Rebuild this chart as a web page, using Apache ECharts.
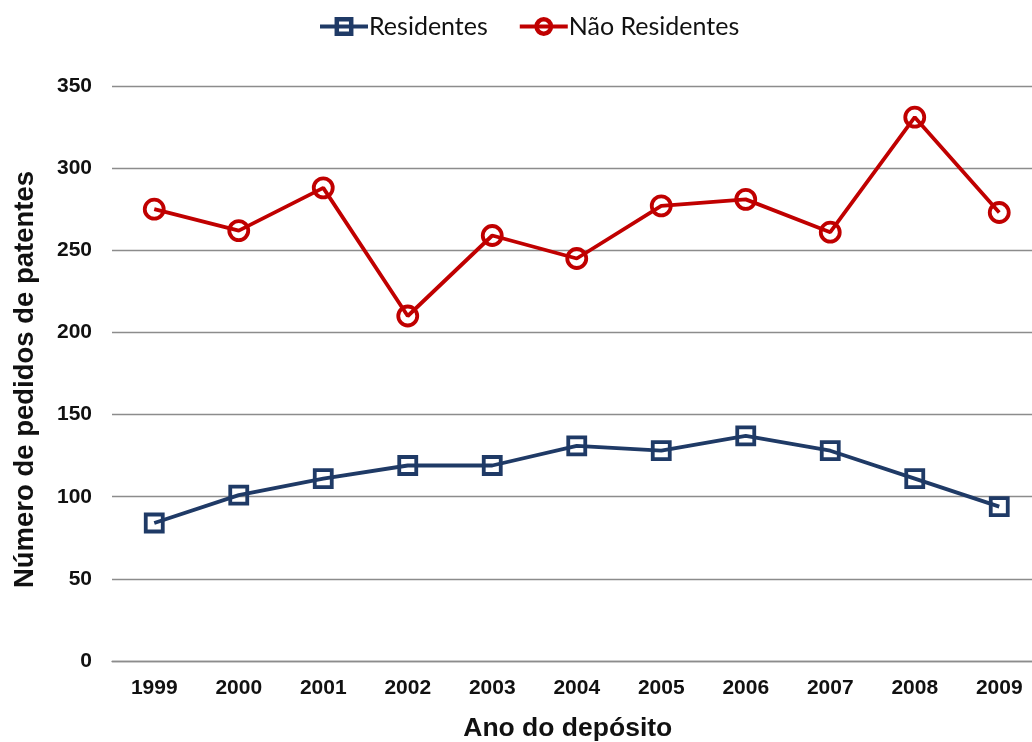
<!DOCTYPE html>
<html>
<head>
<meta charset="utf-8">
<script src="https://cdn.jsdelivr.net/npm/echarts@6/dist/echarts.min.js"></script>
<style>
  html, body { margin: 0; padding: 0; background: #ffffff; }
  #chart { width: 1032px; height: 742px; }
</style>
</head>
<body>
<div id="chart"></div>
<script>
// Pedidos de patentes por ano do depósito
const anos = ['1999', '2000', '2001', '2002', '2003', '2004', '2005', '2006', '2007', '2008', '2009'];
const residentes = [84, 101, 111, 119, 119, 131, 128, 137, 128, 111, 94];
const naoResidentes = [275, 262, 288, 210, 259, 245, 277, 281, 261, 331, 273];
const yTicks = [0, 50, 100, 150, 200, 250, 300, 350];

const azul = '#1F3A66';
const vermelho = '#C00000';

const chart = echarts.init(document.getElementById('chart'), null, { renderer: 'canvas' });

chart.setOption({
  backgroundColor: '#ffffff',
  animation: false,
  legend: {
    top: 9,
    left: 313,
    itemGap: 30,
    itemWidth: 48,
    itemHeight: 18,
    lineStyle: { width: 4 },
    itemStyle: { borderWidth: 4.5 },
    textStyle: { fontFamily: 'Lato', fontSize: 25, color: '#111111', padding: [0, 0, 0, -4] },
    data: ['Residentes', 'Não Residentes']
  },
  grid: { left: 112, top: 86, height: 575, width: 929.5, outerBoundsMode: 'none' },
  xAxis: {
    type: 'category',
    data: anos,
    boundaryGap: true,
    name: 'Ano do depósito',
    nameLocation: 'middle',
    nameGap: 54,
    nameTextStyle: { fontFamily: 'Liberation Sans', fontWeight: 'bold', fontSize: 26.5, color: '#111111', padding: [0, 18, 0, 0] },
    axisLine: { show: true, lineStyle: { color: '#8c8c8c', width: 1.3 } },
    axisTick: { show: false },
    axisLabel: { fontFamily: 'Liberation Sans', fontWeight: 'bold', fontSize: 21, color: '#111111', margin: 17 }
  },
  yAxis: {
    type: 'value',
    min: yTicks[0],
    max: yTicks[yTicks.length - 1],
    interval: 50,
    name: 'Número de pedidos de patentes',
    nameLocation: 'middle',
    nameGap: 73,
    nameTextStyle: { fontFamily: 'Liberation Sans', fontWeight: 'bold', fontSize: 27.5, color: '#111111', padding: [0, 12, 0, 0] },
    axisLine: { show: false },
    axisTick: { show: false },
    splitLine: { show: true, lineStyle: { color: '#8c8c8c', width: 1.3 } },
    axisLabel: { fontFamily: 'Liberation Sans', fontWeight: 'bold', fontSize: 21, color: '#111111', margin: 20 }
  },
  series: [
    {
      name: 'Residentes',
      type: 'line',
      data: residentes,
      symbol: 'rect',
      symbolSize: 17,
      lineStyle: { color: azul, width: 3.8 },
      itemStyle: { color: 'rgba(255,255,255,0)', borderColor: azul, borderWidth: 3.8 }
    },
    {
      name: 'Não Residentes',
      type: 'line',
      data: naoResidentes,
      symbol: 'circle',
      symbolSize: 19,
      lineStyle: { color: vermelho, width: 3.8 },
      itemStyle: { color: 'rgba(255,255,255,0)', borderColor: vermelho, borderWidth: 3.8 }
    }
  ]
});
</script>
</body>
</html>
